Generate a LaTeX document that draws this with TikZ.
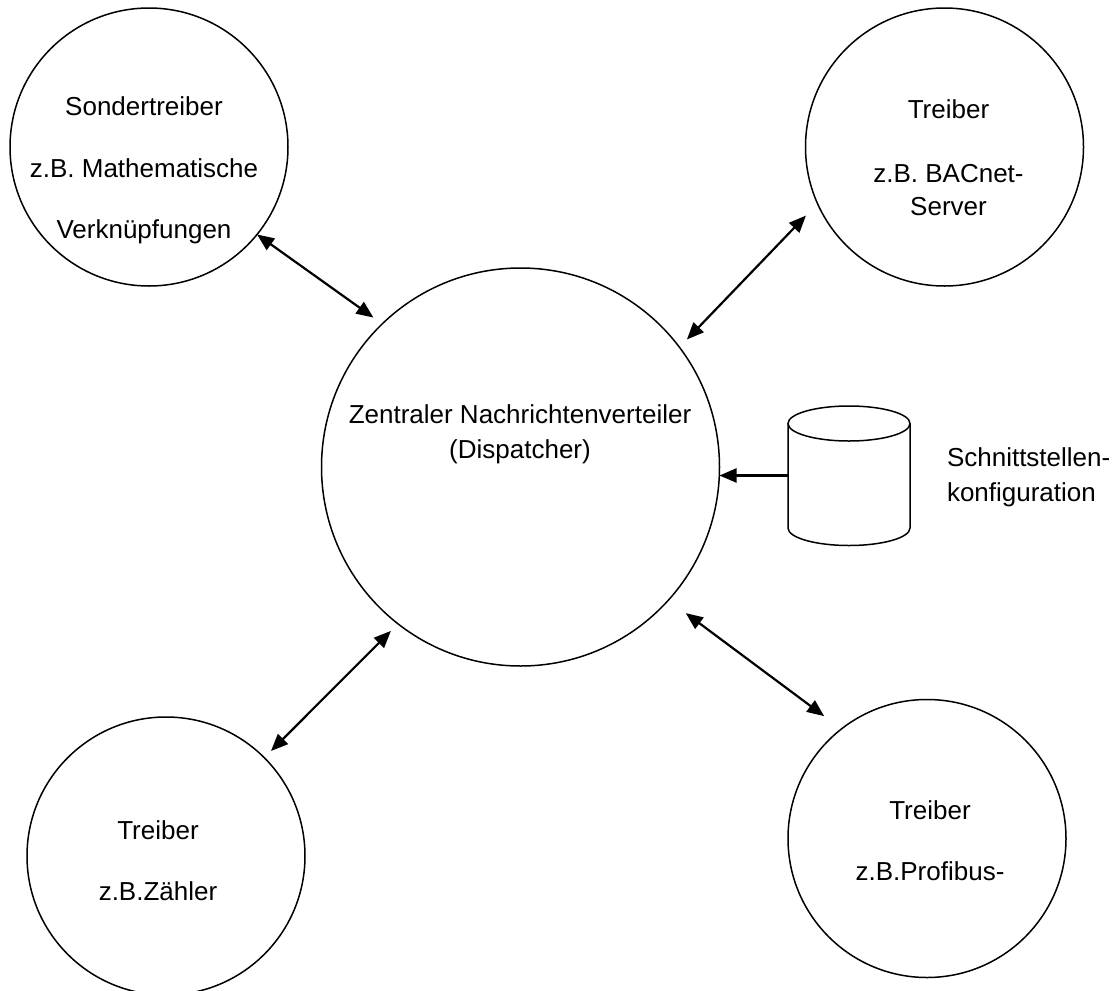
\documentclass[tikz,border=0pt]{standalone}
\usepackage{fontspec}
\setmainfont{Liberation Sans}
\usetikzlibrary{arrows.meta}
\begin{document}
\begin{tikzpicture}[x=1pt,y=-1pt,
  bubble/.style={circle,draw,line width=1.5pt,inner sep=0pt,outer sep=0pt,minimum size=278pt},
  lbl/.style={anchor=base,inner sep=0pt,outer sep=0pt,font=\fontsize{26}{31}\selectfont},
  tipA/.tip={Triangle[length=17pt,width=14pt]},
  link/.style={line width=2.2pt,tipA-tipA},
  feed/.style={line width=2.2pt,-tipA},
  db/.style={line width=1.5pt}
]
\useasboundingbox (0,0) rectangle (1120,991);

% circles
\node[bubble] (tl) at (149,147) {};
\node[bubble] (tr) at (944.5,147) {};
\node[bubble,minimum size=398pt] (c) at (520.5,467) {};
\node[bubble] (bl) at (166,856) {};
\node[bubble] (br) at (927,838.5) {};

% texts
\node[lbl] (tlA) at (144,115) {Sondertreiber};
\node[lbl] (tlB) at (144,177.5) {z.B. Mathematische};
\node[lbl] (tlC) at (144,238) {Verknüpfungen};

\node[lbl] (trA) at (948.5,118) {Treiber};
\node[lbl] (trB) at (948.5,182) {z.B. BACnet-};
\node[lbl] (trC) at (948.5,215) {Server};

\node[lbl] (cA) at (520,423) {Zentraler Nachrichtenverteiler};
\node[lbl] (cB) at (520,458) {(Dispatcher)};

\node[lbl] (blA) at (158,839) {Treiber};
\node[lbl] (blB) at (158,900.5) {z.B.Zähler};

\node[lbl] (brA) at (930,819) {Treiber};
\node[lbl] (brB) at (930,880.5) {z.B.Profibus-};

\node[lbl,anchor=base west] (dbA) at (947,466) {Schnittstellen-};
\node[lbl,anchor=base west] (dbB) at (947,501.5) {konfiguration};

% database cylinder
\node[inner sep=0pt,outer sep=0pt,minimum width=122pt,minimum height=139pt] (dbase) at (849,475.5) {};
\draw[db] (788,423.5) -- (788,528) arc[start angle=180,end angle=360,x radius=61pt,y radius=17.5pt] -- (910,423.5);
\draw[db] (849,423.5) ellipse[x radius=61pt,y radius=17.5pt];

% connectors
\draw[link,shorten >=10.85pt] (tl.-39.2) -- (c.134.2);
\draw[link,shorten <=16.7pt,shorten >=10.75pt] (tr.204.3) -- (c.37.96);
\draw[link,shorten <=9.5pt,shorten >=10pt] (bl.45) -- (c.232);
\draw[link,shorten <=21.5pt,shorten >=21.7pt] (br.128.6) -- (c.-42.3);
\draw[feed] (dbase.west) -- (dbase.west -| c.east);
\end{tikzpicture}
\end{document}
